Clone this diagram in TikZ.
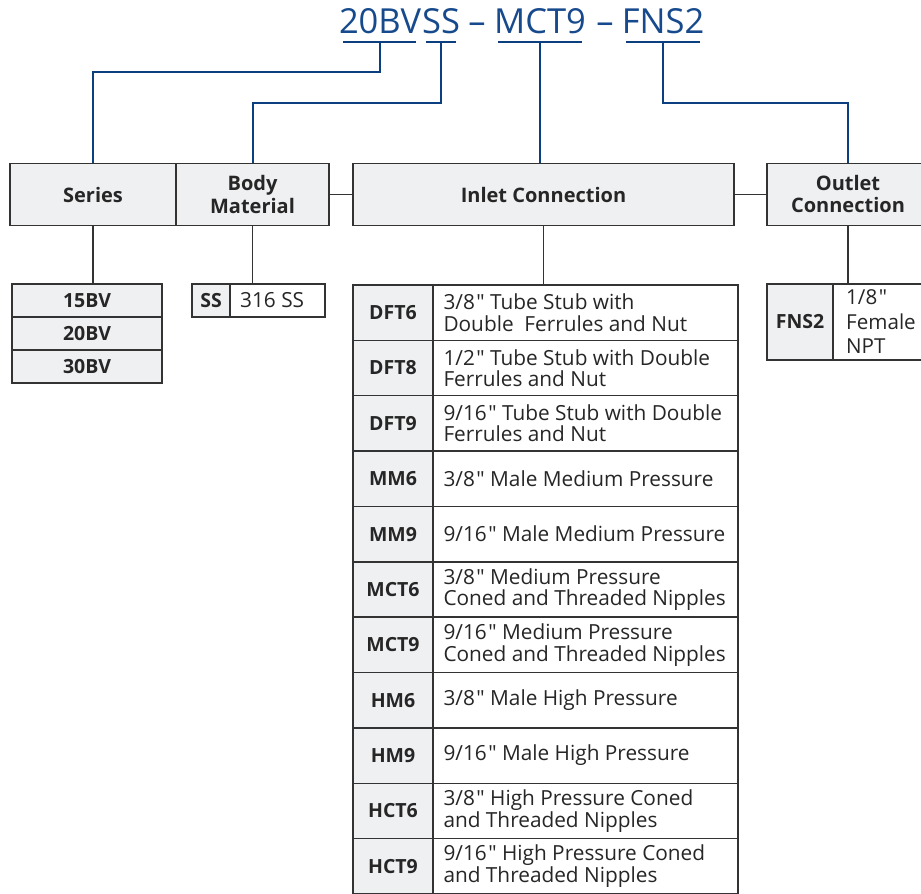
\documentclass[tikz,border=0pt]{standalone}
\usepackage{fontspec}
\setmainfont{Open Sans}[Ligatures=TeXOff]
\definecolor{cellgray}{HTML}{EFF0F2}
\definecolor{linegray}{HTML}{333333}
\definecolor{navy}{HTML}{0B3F80}
\definecolor{titleblue}{HTML}{174A8C}
\newcommand\inch{\kern1.5pt"}
\tikzset{
  hdr/.style={draw=linegray, line width=1.4pt, fill=cellgray, inner sep=0pt, align=center,
    minimum height=62pt, font=\fontsize{20}{23.5}\selectfont\bfseries, text=black!85},
  codecell/.style={draw=linegray, line width=1.4pt, fill=cellgray, inner sep=0pt,
    font=\fontsize{19.5}{22}\selectfont\bfseries, text=black!85},
  desccell/.style={draw=linegray, line width=1.4pt, fill=white, inner sep=0pt},
  desctext/.style={inner sep=0pt, anchor=west, align=left,
    font=\fontsize{20.8}{21.5}\selectfont, text=black!85},
  conn/.style={draw=linegray, line width=1.4pt},
  blueconn/.style={draw=navy, line width=2pt},
  ttl/.style={inner sep=0pt, anchor=base, text=titleblue, font=\fontsize{34.5}{36}\selectfont}
}
\newcommand\inrow[3]{%
  \node[codecell, minimum width=80pt, minimum height=55.36pt] (ic#1) at (393, {285+55.36*(#1-0.5)}) {#2};
  \node[desccell, minimum width=305pt, minimum height=55.36pt] (id#1) at (585.5, {285+55.36*(#1-0.5)}) {};
  \node[desctext] (it#1) at ([xshift=11pt]id#1.west) {#3};}
\begin{document}
\begin{tikzpicture}[x=1pt, y=-1pt]
\useasboundingbox (0,0) rectangle (921,894);
% title
\node[ttl] (t1) at (380,34) {20BV};
\node[ttl] (t2) at (441,34) {SS};
\node[ttl] (d1) at (477,34) {–};
\node[ttl] (t3) at (540,34) {MCT9};
\node[ttl] (d2) at (605,34) {–};
\node[ttl] (t4) at (663,34) {FNS2};
\coordinate (u1) at (380,42);
\coordinate (u2) at (441,42);
\coordinate (u3) at (540,42);
\coordinate (u4) at (663,42);
\draw[blueconn] (343,42) -- (416,42);
\draw[blueconn] (426,42) -- (456,42);
\draw[blueconn] (498,42) -- (582,42);
\draw[blueconn] (626,42) -- (700,42);
% headers
\node[hdr, minimum width=166pt] (series) at (93,194.5) {Series};
\node[hdr, minimum width=153pt] (body) at (252.5,194.5) {Body\\Material};
\node[hdr, minimum width=381pt] (inlet) at (543.5,194.5) {Inlet Connection};
\node[hdr, minimum width=162pt] (outlet) at (848,194.5) {\raisebox{2pt}{\shortstack{Outlet\\[3.5pt]Connection}}};
% blue connectors
\draw[blueconn] (u1) -- (380,72) -| (series.north);
\draw[blueconn] (u2) -- (441,103) -| (body.north);
\draw[blueconn] (u3) -- (inlet.north -| u3);
\draw[blueconn] (u4) -- (663,103) -| (outlet.north);
% header links
\draw[conn] (body.east) -- (inlet.west);
\draw[conn] (inlet.east) -- (outlet.west);
% series table
\node[codecell, minimum width=150pt, minimum height=33pt] (s1) at (87,300.5) {15BV};
\node[codecell, minimum width=150pt, minimum height=33pt] (s2) at (87,333.5) {20BV};
\node[codecell, minimum width=150pt, minimum height=33pt] (s3) at (87,366.5) {30BV};
\draw[conn] (series.south) -- (series.south |- s1.north);
% body material table
\node[codecell, minimum width=38pt, minimum height=33pt] (ssc) at (211,300.5) {SS};
\node[desccell, minimum width=95pt, minimum height=33pt] (ssd) at (277.5,300.5) {};
\node[desctext, anchor=west] (sst) at (240,300.5) {316 SS};
\draw[conn] (body.south) -- (body.south |- ssd.north);
% inlet table
\inrow{1}{DFT6}{3/8\inch{} Tube Stub with\\Double~ Ferrules and Nut}
\inrow{2}{DFT8}{1/2\inch{} Tube Stub with Double\\Ferrules and Nut}
\inrow{3}{DFT9}{9/16\inch{} Tube Stub with Double\\Ferrules and Nut}
\inrow{4}{MM6}{3/8\inch{} Male Medium Pressure}
\inrow{5}{MM9}{9/16\inch{} Male Medium Pressure}
\inrow{6}{MCT6}{3/8\inch{} Medium Pressure\\Coned and Threaded Nipples}
\inrow{7}{MCT9}{9/16\inch{} Medium Pressure\\Coned and Threaded Nipples}
\inrow{8}{HM6}{3/8\inch{} Male High Pressure}
\inrow{9}{HM9}{9/16\inch{} Male High Pressure}
\inrow{10}{HCT6}{3/8\inch{} High Pressure Coned\\and Threaded Nipples}
\inrow{11}{HCT9}{9/16\inch{} High Pressure Coned\\and Threaded Nipples}
\draw[conn] (inlet.south) -- (inlet.south |- ic1.north);
% outlet table
\node[codecell, minimum width=66pt, minimum height=76pt] (oc) at (800,322) {FNS2};
\node[desccell, minimum width=96pt, minimum height=76pt] (od) at (881,322) {};
\node[desctext, font=\fontsize{20.6}{24.5}\selectfont] (ot) at (846,322) {1/8\inch\\Female\\NPT};
\draw[conn] (outlet.south) -- (outlet.south |- od.north);
\end{tikzpicture}
\end{document}
